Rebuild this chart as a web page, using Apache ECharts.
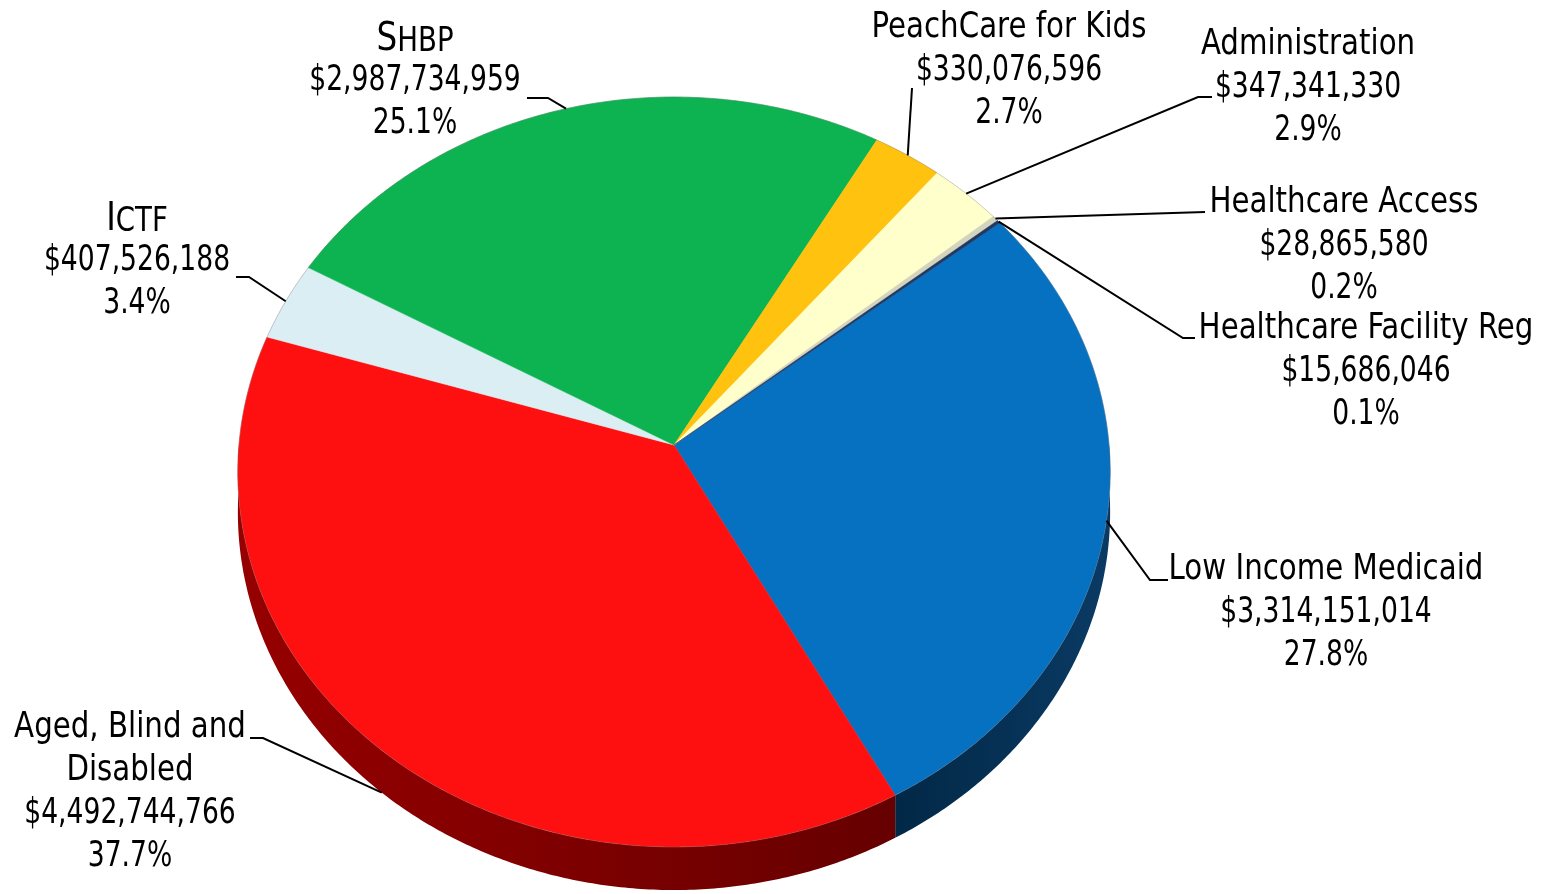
<!DOCTYPE html>
<html><head><meta charset="utf-8">
<script src="https://cdn.jsdelivr.net/npm/echarts@6/dist/echarts.min.js"></script>
<style>html,body{margin:0;padding:0;background:#fff}#c{width:1547px;height:894px}</style>
</head><body><div id="c"></div>
<script>
// ---- data (clockwise order starting from Low Income Medicaid) ----
const categories = ['Low Income Medicaid', 'Aged, Blind and\nDisabled', 'ICTF', 'SHBP', 'PeachCare for Kids', 'Administration', 'Healthcare Access', 'Healthcare Facility Reg'];
const amounts = [3314151014, 4492744766, 407526188, 2987734959, 330076596, 347341330, 28865580, 15686046];
const percentLabels = ['27.8%', '37.7%', '3.4%', '25.1%', '2.7%', '2.9%', '0.2%', '0.1%'];

// ---- styles / layout ----
const topColors = ['#0671C1', '#FF1010', '#DAEEF3', '#0CB350', '#FFC20E', '#FFFFCC', '#D4D4BC', '#1F3864'];
const sideColors = [['#0A3A64', '#022846'], ['#660000', '#960000'], ['#A9C4CC', '#A9C4CC'], ['#076B30', '#076B30'], ['#A67C00', '#A67C00'], ['#B0B080', '#B0B080'], ['#888', '#888'], ['#112040', '#112040']];
const labelLayout = [
  { x: 1326, y: 548, path: [[1168, 580], [1150, 580]], depth: 0 },
  { x: 130, y: 706, path: [[250, 738], [263, 738]], depth: 40 },
  { x: 137, y: 196, path: [[236, 277], [249, 277]], depth: 0, caps: true },
  { x: 415, y: 16, path: [[527, 98], [548, 98]], depth: 0, caps: true },
  { x: 1009, y: 6, path: [[912, 88]], depth: 0 },
  { x: 1308, y: 23, path: [[1212, 97], [1198, 97]], depth: 0 },
  { x: 1344, y: 181, path: [[1205, 212]], depth: 0 },
  { x: 1366, y: 307, path: [[1195, 338], [1183, 338]], depth: 0 }
];
const START = 51.5;             // degrees clockwise from 12 o'clock
const CX = 674, CY = 445, R = 435, RT = 373, K = 0.072, DEPTH = 40;
const FONT = '"Liberation Sans Narrow", "Arial Narrow", "DejaVu Sans Condensed", sans-serif';
const LH = 43, FS = 35, NAME_SCALE = 0.93, NUM_SCALE = 0.845;

const total = amounts.reduce((a, b) => a + b, 0);
const startAngles = [];
(function () { let c = 0; amounts.forEach(v => { startAngles.push(START + 360 * c / total); c += v; }); })();

function proj(deg, depth) {
  const p = deg * Math.PI / 180;
  const u = Math.sin(p), v = -Math.cos(p);
  const w = 1 - K * v;
  return [CX + R * u / w, CY + (RT * v + (depth || 0)) / w];
}
function arc(a0, a1, depth) {
  const pts = [];
  const n = Math.max(2, Math.ceil((a1 - a0) / 0.5));
  for (let i = 0; i <= n; i++) pts.push(proj(a0 + (a1 - a0) * i / n, depth));
  return pts;
}
function fmt(n) { return '$' + String(n).replace(/\B(?=(\d{3})+(?!\d))/g, ','); }

const rich = {
  n: { fontSize: FS, fontFamily: FONT, lineHeight: LH, fill: '#000' },
  cap: { fontSize: 39, fontFamily: FONT, lineHeight: LH, fill: '#000', verticalAlign: 'bottom' },
  sc: { fontSize: 33, fontFamily: FONT, lineHeight: LH, fill: '#000', verticalAlign: 'bottom' }
};

function renderItem(params, api) {
  const i = params.dataIndex;
  const val = api.value(0);
  const a0 = startAngles[i];
  const a1 = a0 + 360 * val / total;
  const children = [];
  [[90, 270], [450, 630]].forEach(([lo, hi]) => {
    const s = Math.max(a0, lo), e = Math.min(a1, hi);
    if (e > s) {
      const topPts = arc(s, e, 0);
      const botPts = arc(s, e, DEPTH).reverse();
      children.push({
        type: 'polygon', z2: 1,
        shape: { points: topPts.concat(botPts) },
        style: { fill: new echarts.graphic.LinearGradient(0, 0, 1, 0, [{ offset: 0, color: sideColors[i][1] }, { offset: 1, color: sideColors[i][0] }], false), stroke: null }
      });
    }
  });
  const topArc = arc(a0, a1, 0);
  children.push({
    type: 'polygon', z2: 10,
    shape: { points: [[CX, CY]].concat(topArc) },
    style: { fill: topColors[i], stroke: topColors[i], lineWidth: 0.5 }
  });
  children.push({
    type: 'polyline', z2: 11, shape: { points: topArc },
    style: { fill: null, stroke: 'rgba(110,110,110,0.35)', lineWidth: 1 }
  });
  const L = labelLayout[i];
  const mid = (a0 + a1) / 2;
  const edge = proj(mid, L.depth);
  children.push({
    type: 'polyline', z2: 30,
    shape: { points: L.path.concat([edge]) },
    style: { fill: null, stroke: '#000', lineWidth: 2 }
  });
  const name = categories[i];
  const nameLines = name.split('\n');
  const nameRich = L.caps ? '{cap|' + name[0] + '}{sc|' + name.slice(1) + '}' : nameLines.map(s => '{n|' + s + '}').join('\n');
  children.push({
    type: 'text', z2: 30, x: L.x, y: L.y, scaleX: NAME_SCALE,
    style: { text: nameRich, x: 0, y: 0, align: 'center', verticalAlign: 'top', fill: '#000', rich }
  });
  children.push({
    type: 'text', z2: 30, x: L.x, y: L.y + LH * nameLines.length, scaleX: NUM_SCALE,
    style: { text: '{n|' + fmt(val) + '}\n{n|' + percentLabels[i] + '}', x: 0, y: 0, align: 'center', verticalAlign: 'top', fill: '#000', rich }
  });
  return { type: 'group', children };
}

const chart = echarts.init(document.getElementById('c'), null, { renderer: 'canvas' });
chart.setOption({
  animation: false,
  backgroundColor: '#fff',
  series: [{
    type: 'custom',
    coordinateSystem: 'none',
    renderItem,
    data: amounts.map((v, i) => ({ name: categories[i], value: [v] }))
  }]
});
</script></body></html>
